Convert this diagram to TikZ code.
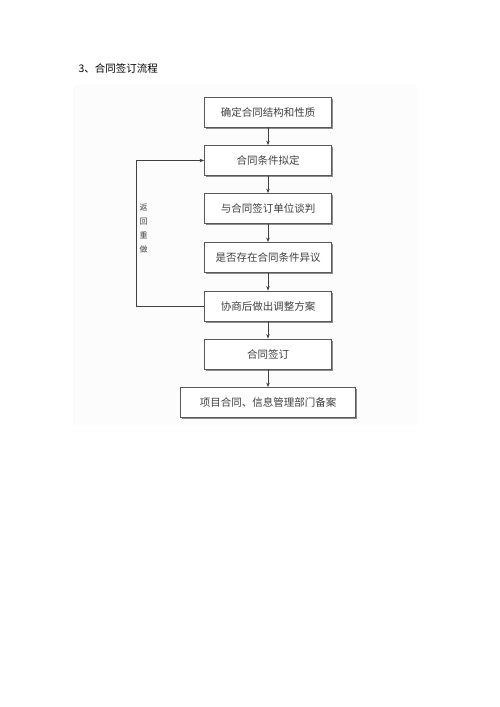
\documentclass[tikz,border=0pt]{standalone}
\usepackage{fontspec}
\setmainfont{Noto Sans CJK SC}
\usetikzlibrary{arrows.meta,shadows}

\begin{document}
\begin{tikzpicture}
    [x=1pt,y=-1pt,
     box/.style={rectangle, draw=black!65, line width=0.8pt, fill=white,
       minimum width=127pt, minimum height=30pt, inner sep=0pt,
       text=black!75, font=\fontsize{10.5}{12}\selectfont,
       drop shadow={shadow xshift=1.5pt, shadow yshift=-1.5pt, fill=black!45, opacity=1}},
     flow/.style={-{Stealth[length=4.5pt,width=3.5pt]}, draw=black!75, line width=0.7pt}]
    \useasboundingbox (0,0) rectangle (500,707);
    \fill[black!1] (73,85) rectangle (417,425);

    \node[anchor=west, font=\fontsize{10.5}{12}\selectfont] (title) at (75,68) {3、合同签订流程};

    \node[box] (b1) at (268,112) {确定合同结构和性质};
    \node[box] (b2) at (268,160.5) {合同条件拟定};
    \node[box] (b3) at (268,208.5) {与合同签订单位谈判};
    \node[box] (b4) at (268,257.5) {是否存在合同条件异议};
    \node[box] (b5) at (268,306) {协商后做出调整方案};
    \node[box] (b6) at (268,354) {合同签订};
    \node[box, minimum width=175pt] (b7) at (268,402.5) {项目合同、信息管理部门备案};

    \node[align=center, inner sep=0pt, text=black!75, font=\fontsize{8}{14}\selectfont] (back) at (143.5,229) {返\\回\\重\\做};

    \foreach \from/\to in {b1/b2, b2/b3, b3/b4, b4/b5, b5/b6, b6/b7}
    \draw[flow] (\from) -- (\to);
    \draw[flow] (b5.west) -- ++(-68,0) |- (b2.west);
\end{tikzpicture}
\end{document}
